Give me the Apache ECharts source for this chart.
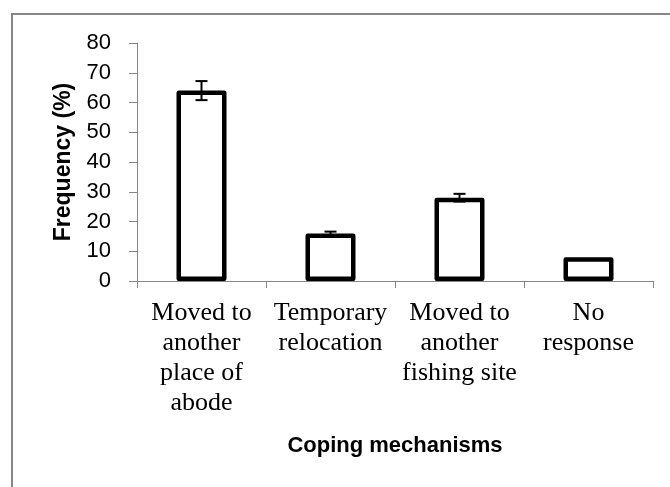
<!DOCTYPE html>
<html>
<head>
<meta charset="utf-8">
<script src="https://cdn.jsdelivr.net/npm/echarts@6/dist/echarts.min.js"></script>
<style>
  html, body { margin: 0; padding: 0; background: #fff; }
  #chart { width: 670px; height: 487px; }
</style>
</head>
<body>
<div id="chart"></div>
<script>
// data
const categories = [
    'Moved to\nanother\nplace of\nabode',
    'Temporary\nrelocation',
    'Moved to\nanother\nfishing site',
    'No\nresponse'
];
const frequency = [64, 16, 28, 8];
const errors = [3.2, 0.6, 1.3, 0];
const yTicks = [0, 10, 20, 30, 40, 50, 60, 70, 80];

const axisGray = '#868686';

const chart = echarts.init(document.getElementById('chart'));

// error bar data: [index, low, high]
const errorData = frequency.map((v, i) => [i, v - errors[i], v + errors[i]]);

const option = {
    animation: false,
    graphic: [{
        type: 'rect',
        shape: { x: 12, y: 14, width: 700, height: 520 },
        style: { fill: 'none', stroke: axisGray, lineWidth: 2 }
    }],
    grid: { left: 137, right: 17, top: 43, bottom: 206 },
    xAxis: {
        type: 'category',
        data: categories,
        name: 'Coping mechanisms',
        nameLocation: 'middle',
        nameGap: 154,
        nameTextStyle: {
            fontFamily: 'Liberation Sans',
            fontWeight: 'bold',
            fontSize: 22,
            color: '#000'
        },
        axisLine: { lineStyle: { color: axisGray, width: 1 } },
        axisTick: { show: true, length: 7, lineStyle: { color: axisGray } },
        axisLabel: {
            interval: 0,
            margin: 17,
            fontFamily: 'Liberation Serif',
            fontSize: 26,
            lineHeight: 30,
            color: '#000'
        }
    },
    yAxis: {
        type: 'value',
        min: yTicks[0],
        max: yTicks[yTicks.length - 1],
        interval: 10,
        name: 'Frequency (%)',
        nameLocation: 'middle',
        nameRotate: 90,
        nameGap: 62,
        nameTextStyle: {
            fontFamily: 'Liberation Sans',
            fontWeight: 'bold',
            fontSize: 23,
            color: '#000'
        },
        axisLine: { show: true, lineStyle: { color: axisGray, width: 1 } },
        axisTick: { show: true, length: 8, lineStyle: { color: axisGray } },
        axisLabel: {
            margin: 26,
            fontFamily: 'Liberation Sans',
            fontSize: 22,
            color: '#000'
        },
        splitLine: { show: false }
    },
    series: [
        {
            type: 'bar',
            data: frequency,
            barWidth: 50,
            itemStyle: {
                color: '#fff',
                borderColor: '#000',
                borderWidth: 4.5,
                borderJoin: 'round'
            }
        },
        {
            type: 'custom',
            data: errorData,
            z: 10,
            renderItem: function (params, api) {
                const idx = api.value(0);
                const lo = api.coord([idx, api.value(1)]);
                const hi = api.coord([idx, api.value(2)]);
                if (hi[1] === lo[1]) return null;
                const half = 6;
                const style = { stroke: '#000', lineWidth: 2 };
                return {
                    type: 'group',
                    children: [
                        { type: 'line', shape: { x1: lo[0], y1: lo[1], x2: hi[0], y2: hi[1] }, style: style },
                        { type: 'line', shape: { x1: lo[0] - half, y1: lo[1], x2: lo[0] + half, y2: lo[1] }, style: style },
                        { type: 'line', shape: { x1: hi[0] - half, y1: hi[1], x2: hi[0] + half, y2: hi[1] }, style: style }
                    ]
                };
            }
        }
    ]
};

chart.setOption(option);
</script>
</body>
</html>
